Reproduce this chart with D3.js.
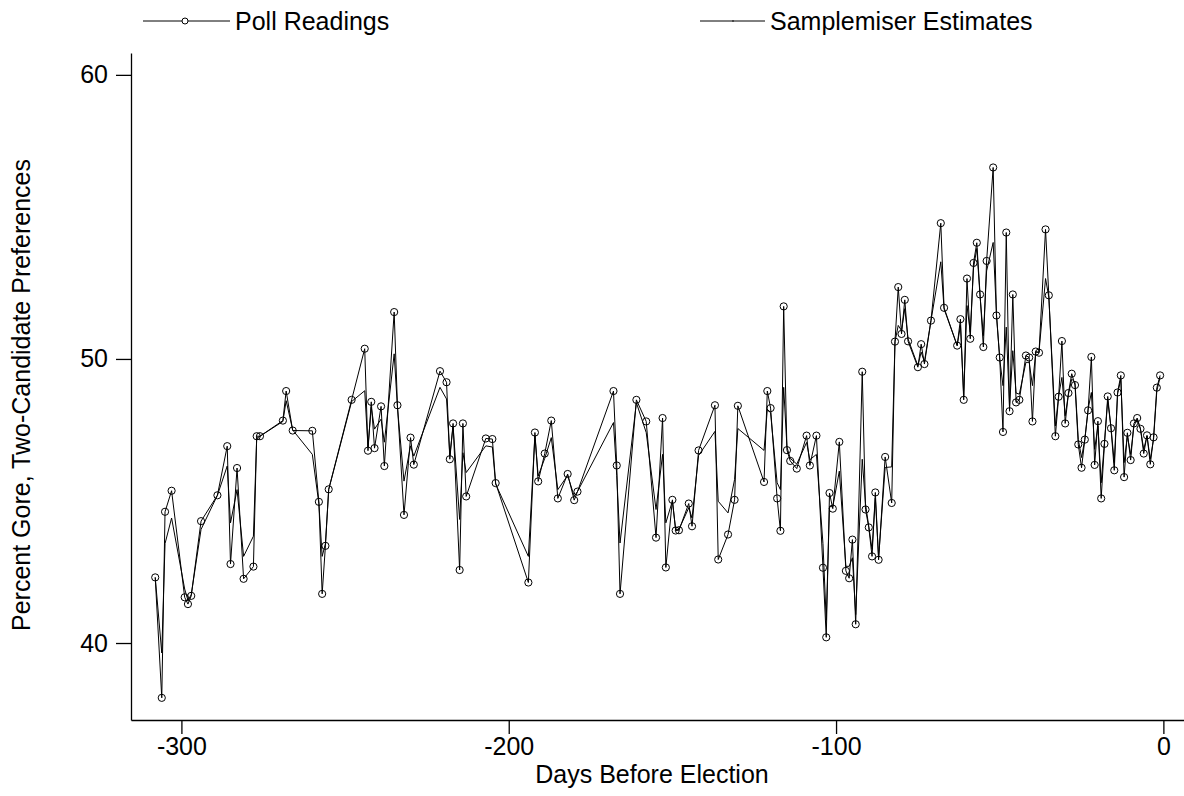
<!DOCTYPE html>
<html>
<head>
<meta charset="utf-8">
<script src="https://cdn.jsdelivr.net/npm/d3@7"></script>
<style>
  html, body { margin: 0; padding: 0; background: #fff; }
  svg text { font-family: "Liberation Sans", Arial, sans-serif; fill: #000; }
</style>
</head>
<body>
<svg id="chart" width="1184" height="796"></svg>
<script>
// Days before election for each poll reading
const days = [
  -308,-306,-305,-303,-299,-298,-297,-294,-289,-286,-285,-283,-281,-278,-277,-276,
  -269,-268,-266,-260,-258,-257,-256,-255,-248,-244,-243,-242,-241,-239,-238,-235,
  -234,-232,-230,-229,-221,-219,-218,-217,-215,-214,-213,-207,-205,-204,-194,-192,
  -191,-189,-187,-185,-182,-180,-179,-168,-167,-166,-161,-158,-155,-153,-152,-150,
  -149,-148,-145,-144,-142,-137,-136,-133,-131,-130,-122,-121,-120,-118,-117,-116,
  -115,-114,-112,-109,-108,-106,-104,-103,-102,-101,-99,-97,-96,-95,-94,-92,
  -91,-90,-89,-88,-87,-85,-83,-82,-81,-80,-79,-78,-75,-74,-73,-71,
  -68,-67,-63,-62,-61,-60,-59,-58,-57,-56,-55,-54,-52,-51,-50,-49,
  -48,-47,-46,-45,-44,-42,-41,-40,-39,-38,-36,-35,-33,-32,-31,-30,
  -29,-28,-27,-26,-25,-24,-23,-22,-21,-20,-19,-18,-17,-16,-15,-14,
  -13,-12,-11,-10,-9,-8,-7,-6,-5,-4,-3,-2,-1
];
// Poll readings (percent Gore, two-candidate)
const pollReadings = [
  42.31,38.07,44.62,45.36,41.61,41.37,41.66,44.29,45.20,46.93,42.78,46.16,42.26,42.69,47.28,47.28,
  47.83,48.87,47.48,47.47,44.97,41.73,43.42,45.41,48.56,50.36,46.77,48.49,46.86,48.33,46.23,51.65,
  48.37,44.51,47.23,46.28,49.57,49.18,46.47,47.73,42.57,47.73,45.16,47.20,47.18,45.63,42.13,47.41,
  45.69,46.67,47.83,45.09,45.95,45.03,45.33,48.87,46.25,41.73,48.56,47.80,43.71,47.92,42.66,45.04,
  43.96,43.97,44.91,44.11,46.78,48.37,42.94,43.82,45.04,48.35,45.67,48.87,48.27,45.09,43.95,51.85,
  46.79,46.41,46.14,47.30,46.25,47.30,42.65,40.20,45.28,44.73,47.08,42.54,42.28,43.64,40.66,49.55,
  44.70,44.07,43.05,45.30,42.93,46.55,44.93,50.61,52.53,50.88,52.08,50.62,49.71,50.52,49.82,51.35,
  54.78,51.80,50.47,51.40,48.56,52.83,50.71,53.38,54.09,52.27,50.42,53.45,56.74,51.53,50.05,47.43,
  54.45,48.16,52.27,48.47,48.56,50.12,50.05,47.80,50.26,50.22,54.56,52.24,47.28,48.67,50.63,47.73,
  48.80,49.48,49.08,46.99,46.17,47.16,48.19,50.07,46.27,47.81,45.09,47.01,48.68,47.56,46.08,48.82,
  49.42,45.84,47.40,46.44,47.73,47.92,47.54,46.67,47.31,46.29,47.24,48.99,49.42
];
// Samplemiser estimates at the same days
const samplemiserEstimates = [
  42.31,39.65,43.50,44.40,41.90,41.50,41.70,44.00,45.20,46.23,44.23,45.40,43.05,43.76,47.20,47.28,
  47.80,48.53,47.50,46.64,44.90,43.05,43.50,45.40,48.50,48.88,46.90,48.30,47.53,47.88,47.07,50.18,
  48.30,45.70,46.94,46.58,49.00,48.59,46.60,47.64,44.35,46.70,46.00,46.94,46.90,45.60,43.05,47.30,
  45.88,46.50,47.23,45.40,45.90,45.17,45.33,47.76,45.90,43.52,48.46,47.41,44.70,46.64,44.23,45.00,
  44.00,44.00,44.76,44.40,46.60,47.45,44.99,44.58,45.76,47.55,46.78,48.23,48.10,45.64,45.40,49.00,
  46.90,46.50,46.30,47.06,46.45,46.64,43.50,40.80,44.80,44.80,46.05,42.70,42.70,43.00,41.00,46.47,
  44.90,44.10,43.30,45.10,43.00,46.18,46.20,50.60,51.18,51.00,51.77,50.70,49.76,50.24,49.90,51.35,
  53.42,51.76,50.47,51.18,48.70,51.88,50.94,53.20,53.89,52.20,50.82,53.10,54.10,51.60,50.00,49.06,
  51.12,48.30,50.29,48.80,48.76,49.88,49.88,49.06,50.24,50.24,52.83,52.18,47.64,48.70,49.35,48.00,
  48.76,49.29,49.18,47.17,46.53,47.17,48.23,48.82,46.82,47.64,45.64,47.06,48.53,47.59,46.35,48.76,
  49.29,46.35,47.29,46.64,47.64,47.88,47.53,46.82,47.29,46.47,47.17,48.88,49.35
];
const xTicks = [-300, -200, -100, 0];
const yTicks = [40, 50, 60];
const seriesNames = ["Poll Readings", "Samplemiser Estimates"];
const xTitle = "Days Before Election";
const yTitle = "Percent Gore, Two-Candidate Preferences";

const svg = d3.select("#chart");
const x = d3.scaleLinear().domain([-315.4, 6.3]).range([131, 1184]);
const y = d3.scaleLinear().domain([37.29, 60.77]).range([720, 53]);

const xAxis = d3.axisBottom(x).tickValues(xTicks).tickSize(14).tickSizeOuter(0).tickPadding(3)
  .tickFormat(d => d === 0 ? "0" : String(d));
const yAxis = d3.axisLeft(y).tickValues(yTicks).tickSize(15).tickSizeOuter(0).tickPadding(8);

const gx = svg.append("g").attr("transform", "translate(0,720)").call(xAxis);
const gy = svg.append("g").attr("transform", "translate(131,0)").call(yAxis);
[gx, gy].forEach(g => {
  g.selectAll("path.domain").attr("stroke", "#000").attr("stroke-width", 1.3);
  g.selectAll(".tick line").attr("stroke", "#000").attr("stroke-width", 1.3);
  g.selectAll(".tick text").attr("font-size", 25).attr("font-family", "Liberation Sans, Arial, sans-serif").attr("fill", "#000");
});

const pts = days.map((d, i) => ({d, p: pollReadings[i], e: samplemiserEstimates[i]}));

svg.append("path")
  .datum(pts)
  .attr("fill", "none").attr("stroke", "#000").attr("stroke-width", 1)
  .attr("d", d3.line().x(q => x(q.d)).y(q => y(q.e)));

svg.append("path")
  .datum(pts)
  .attr("fill", "none").attr("stroke", "#000").attr("stroke-width", 1)
  .attr("d", d3.line().x(q => x(q.d)).y(q => y(q.p)));

svg.append("g").selectAll("circle").data(pts).join("circle")
  .attr("cx", q => x(q.d)).attr("cy", q => y(q.p)).attr("r", 3.6)
  .attr("fill", "none").attr("stroke", "#000").attr("stroke-width", 1);

// legend
const lg = svg.append("g");
lg.append("line").attr("x1", 143).attr("x2", 230).attr("y1", 21).attr("y2", 21).attr("stroke", "#000");
lg.append("circle").attr("cx", 185).attr("cy", 21).attr("r", 3).attr("fill", "#fff").attr("stroke", "#000");
lg.append("text").attr("x", 235).attr("y", 30).attr("font-size", 25).text(seriesNames[0]);
lg.append("line").attr("x1", 700).attr("x2", 765).attr("y1", 21).attr("y2", 21).attr("stroke", "#000");
lg.append("circle").attr("cx", 733).attr("cy", 21).attr("r", 0.8).attr("fill", "#000");
lg.append("text").attr("x", 770).attr("y", 30).attr("font-size", 25).text(seriesNames[1]);

svg.append("text").attr("x", 652).attr("y", 783).attr("text-anchor", "middle").attr("font-size", 25).text(xTitle);
svg.append("text").attr("transform", "translate(30,395) rotate(-90)").attr("text-anchor", "middle").attr("font-size", 25).text(yTitle);
</script>
</body>
</html>
